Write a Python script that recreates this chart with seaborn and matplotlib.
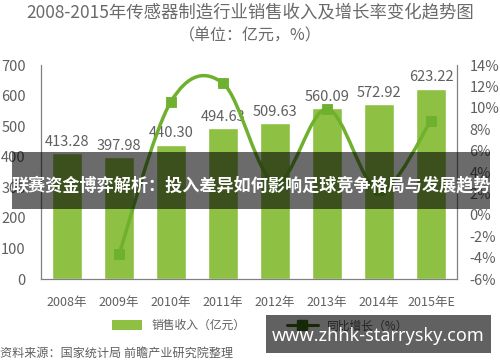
import matplotlib
matplotlib.use("Agg")
import matplotlib.pyplot as plt
import seaborn as sns
import numpy as np
import pandas as pd
from matplotlib.path import Path
from matplotlib.patches import PathPatch, Rectangle, Patch
from matplotlib.lines import Line2D

sns.set_theme(style="white")
plt.rcParams['font.family'] = ['Noto Sans CJK SC', 'DejaVu Sans']
plt.rcParams['axes.unicode_minus'] = False

years = ["2008年", "2009年", "2010年", "2011年", "2012年", "2013年", "2014年", "2015年E"]
revenue = [413.28, 397.98, 440.30, 494.63, 509.63, 560.09, 572.92, 623.22]
growth_years = ["2009年", "2010年", "2011年", "2012年", "2013年", "2014年", "2015年E"]
growth = [-3.7, 10.6, 12.3, 3.0, 9.9, 2.3, 8.8]
left_ticks = [0, 100, 200, 300, 400, 500, 600, 700]
right_ticks = [-6, -4, -2, 0, 2, 4, 6, 8, 10, 12, 14]

title = "2008-2015年传感器制造行业销售收入及增长率变化趋势图"
subtitle = "（单位：亿元，%）"
source = "资料来源：国家统计局 前瞻产业研究院整理"
overlay = "联赛资金博弈解析：投入差异如何影响足球竞争格局与发展趋势"
watermark = "www.zhhk-starrysky.com"

bar_color = "#8dc043"
line_color = "#6fb02e"
text_color = "#5f5f5f"
spine_color = "#808080"

fig = plt.figure(figsize=(5, 3.62), dpi=100)
ax = fig.add_axes([0.082, 0.229, 0.832, 0.591])

df = pd.DataFrame({"year": years, "revenue": revenue})
sns.barplot(data=df, x="year", y="revenue", color=bar_color, saturation=1,
            width=0.57, ax=ax)
ax.set_xlim(-0.5, 7.5)
ax.set_ylim(0, 700)
ax.set_yticks(left_ticks)
ax.set_xlabel("")
ax.set_ylabel("")
ax.tick_params(axis='y', labelsize=10.5, colors=text_color, length=0, pad=11)
ax.tick_params(axis='x', labelsize=9, colors=text_color, length=0, pad=12)
for s in ["top", "right"]:
    ax.spines[s].set_visible(False)
for s in ["left", "bottom"]:
    ax.spines[s].set_color(spine_color)
    ax.spines[s].set_linewidth(0.9)

for i, v in enumerate(revenue):
    ax.text(i, v + 14, f"{v:.2f}", ha="center", va="bottom",
            fontsize=10.5, color=text_color)

ax2 = ax.twinx()
ax2.set_ylim(-6, 14)
ax2.set_yticks(right_ticks)
ax2.set_yticklabels([f"{t}%" for t in right_ticks])
ax2.tick_params(axis='y', labelsize=10.5, colors=text_color, length=0, pad=9)
for s in ["top", "left", "bottom"]:
    ax2.spines[s].set_visible(False)
ax2.spines["right"].set_color(spine_color)
ax2.spines["right"].set_linewidth(0.9)

# smooth curve through growth points (Catmull-Rom as Bezier)
gx = [years.index(y) for y in growth_years]
pts = list(zip(gx, growth))
verts = [pts[0]]
codes = [Path.MOVETO]
n = len(pts)
for i in range(n - 1):
    p0 = np.array(pts[max(i - 1, 0)], float)
    p1 = np.array(pts[i], float)
    p2 = np.array(pts[i + 1], float)
    p3 = np.array(pts[min(i + 2, n - 1)], float)
    c1 = p1 + (p2 - p0) / 6
    c2 = p2 - (p3 - p1) / 6
    verts += [tuple(c1), tuple(c2), tuple(p2)]
    codes += [Path.CURVE4] * 3
ax2.add_patch(PathPatch(Path(verts, codes), facecolor="none",
                        edgecolor=line_color, lw=2.5, zorder=3))
gdf = pd.DataFrame({"x": gx, "g": growth})
sns.scatterplot(data=gdf, x="x", y="g", marker="s", s=60, color=line_color,
                edgecolor=line_color, ax=ax2, zorder=4, legend=False)
ax2.set_xlabel("")
ax2.set_ylabel("")
ax2.set_xlim(-0.5, 7.5)

fig.text(0.5, 0.965, title, ha="center", va="center", fontsize=12.5,
         color="#6a6a6a", fontweight="light")
fig.text(0.5, 0.90, subtitle, ha="center", va="center", fontsize=11.5,
         color="#6a6a6a", fontweight="light")

handles = [Patch(facecolor=bar_color, edgecolor="none"),
           Line2D([0], [0], color="#3d6b1a", lw=2.2, marker="s", markersize=7)]
fig.legend(handles, ["销售收入（亿元）", "同比增长（%）"], loc="center",
           bbox_to_anchor=(0.52, 0.1), ncol=2, frameon=False, fontsize=8.5,
           labelcolor=text_color, handlelength=2.6, handleheight=0.9,
           columnspacing=3.5)

fig.text(0.0, 0.025, source, ha="left", va="center", fontsize=8.7, color=text_color)

# overlay band
fig.patches.append(Rectangle((0.024, 0.4227), 0.956, 0.157, transform=fig.transFigure,
                             facecolor="black", alpha=0.58, edgecolor="none", zorder=10))
fig.text(0.502, 0.488, overlay, ha="center", va="center", fontsize=12.3,
         fontweight="bold", color="white", zorder=11)

# watermark box
fig.patches.append(Rectangle((0.532, 0.025), 0.45, 0.105, transform=fig.transFigure,
                             facecolor="black", alpha=0.62, edgecolor="none", zorder=10))
fig.text(0.757, 0.072, watermark, ha="center", va="center", fontsize=13,
         fontweight="bold", color="white", zorder=11, family=["Noto Sans", "DejaVu Sans"])

fig.savefig("out.png", dpi=100)
